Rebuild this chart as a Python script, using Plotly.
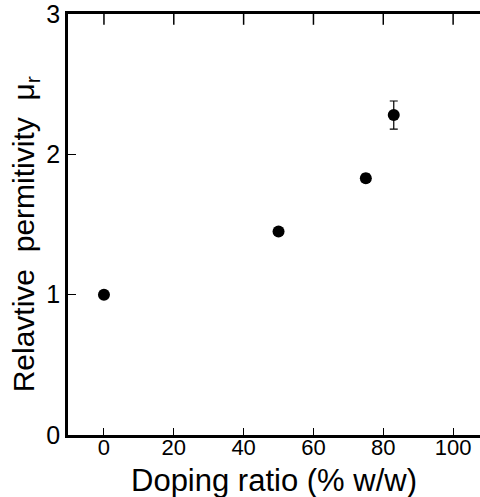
import plotly.graph_objects as go

doping = [0, 50, 75, 83]
permittivity = [1.0, 1.45, 1.83, 2.28]
errors = [0.0, 0.0, 0.03, 0.1]

x_ticks = [0, 20, 40, 60, 80, 100]
y_ticks = [0, 1, 2, 3]
x_range = [-10.3, 107.7]

font_family = "Liberation Sans, Arial, sans-serif"
plot_h = 497 - 14 - 62
top_tick_len = 9

fig = go.Figure()
fig.add_trace(go.Scatter(
    x=doping, y=permittivity, mode="markers",
    marker=dict(color="black", size=12),
    error_y=dict(type="data", array=errors, color="black", thickness=1.2, width=4),
    showlegend=False,
))
# top-edge tick marks (inside), placed on an overlaying 0..1 axis
fig.add_trace(go.Scatter(
    x=x_ticks, y=[1 - (top_tick_len / 2) / plot_h] * len(x_ticks), yaxis="y2",
    mode="markers", cliponaxis=False, hoverinfo="skip", showlegend=False,
    marker=dict(symbol="line-ns", size=top_tick_len, color="black",
                line=dict(color="black", width=1.5)),
))

fig.update_layout(
    width=480, height=497,
    margin=dict(l=68, r=0, t=14, b=62, autoexpand=False),
    plot_bgcolor="white", paper_bgcolor="white",
    font=dict(family=font_family, color="black"),
    xaxis=dict(
        range=x_range, tickvals=x_ticks, ticks="inside", ticklen=7,
        tickwidth=1.2, tickcolor="black", showline=True, linecolor="black",
        linewidth=2.5, mirror=True, showgrid=False, zeroline=False,
        tickfont=dict(size=22, family=font_family), ticklabelstandoff=-9,
        automargin=False, ticklabeloverflow="allow",
    ),
    yaxis=dict(
        range=[0, 3], tickvals=y_ticks, ticks="inside", ticklen=8,
        tickwidth=1.2, tickcolor="black", showline=True, linecolor="black",
        linewidth=2.5, mirror=False, showgrid=False, zeroline=False,
        tickfont=dict(size=25, family=font_family), ticklabelstandoff=0,
        automargin=False, ticklabeloverflow="allow",
    ),
    yaxis2=dict(
        overlaying="y", range=[0, 1], visible=False, showgrid=False,
        zeroline=False, automargin=False,
    ),
    annotations=[
        dict(text="Doping ratio (% w/w)", xref="paper", yref="paper",
             x=0.5, y=-0.109, xanchor="center", yanchor="middle",
             showarrow=False, font=dict(size=31, family=font_family)),
        dict(text="Relavtive&nbsp; permitivity&nbsp; μ<sub>r</sub>", xref="paper", yref="paper",
             x=-0.104, y=0.477, xanchor="center", yanchor="middle", textangle=-90,
             showarrow=False, font=dict(size=30, family=font_family)),
    ],
)

fig.write_html("out.html", config={"displayModeBar": False},
               post_script="document.body.style.margin='0';")
